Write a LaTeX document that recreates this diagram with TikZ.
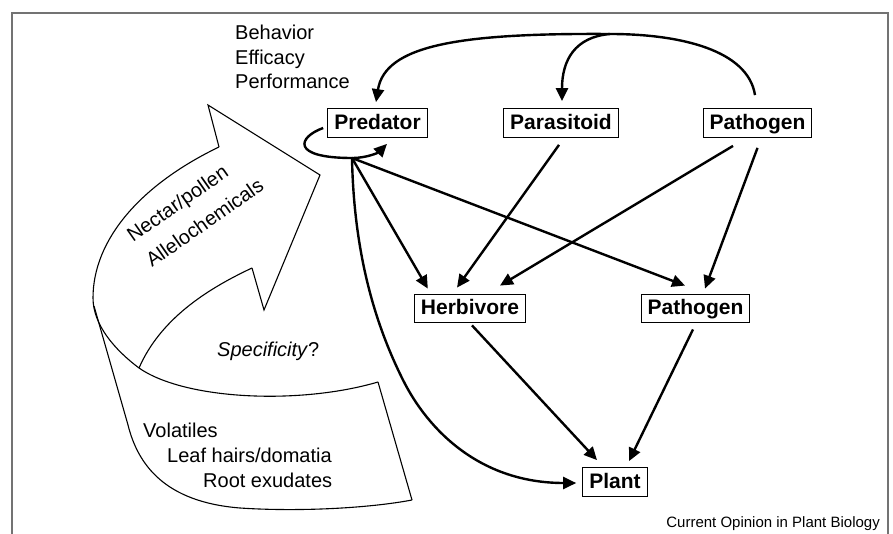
\documentclass[tikz,border=0pt]{standalone}
\usepackage{fontspec}
\setmainfont{Liberation Sans}
\usetikzlibrary{arrows.meta,calc}
\begin{document}
\begin{tikzpicture}[x=1pt,y=-1pt,
  box/.style={draw=black, line width=1.3pt, font=\fontsize{21}{25}\selectfont\bfseries, text height=15pt, text depth=2.5pt, inner xsep=6.5pt, inner ysep=5.5pt},
  lbl/.style={inner sep=0pt, font=\fontsize{20}{24}\selectfont, anchor=base west},
  conn/.style={line width=2.4pt, -{Triangle[length=13pt,width=12pt]}},
  band/.style={line width=1.1pt, line join=miter},
  frameline/.style={draw=black!55, line width=1.5pt}]
\useasboundingbox (0,0) rectangle (893,534);
% frame
\draw[frameline] (12,534) -- (12,13) -- (888,13) -- (888,534);

% boxes
\node[box] (pred) at (377.5,123) {Predator};
\node[box] (para) at (561,123) {Parasitoid};
\node[box] (pathA) at (757.5,123) {Pathogen};
\node[box] (herb) at (470,308.5) {Herbivore};
\node[box] (pathB) at (695.5,308.5) {Pathogen};
\node[box] (plant) at (615,482) {Plant};

\coordinate (loopbot) at (352,158);
\coordinate (peak) at (610,34);

% connectors
\draw[conn] ($(pred.west)+(-4,5)$) .. controls (298,137) and (290,158) .. (loopbot) .. controls (368,158) and (379,152) .. ($(pred.south)+(9.5,6)$);
\draw[conn] ($(pathA.north)+(-2.5,-13)$) .. controls (748,50) and (680,34) .. (peak) .. controls (460,33) and (385,45) .. ($(pred.north)+(-1.5,-6)$);
\draw[conn] (peak) .. controls (575,37) and (562,60) .. ($(para.north)+(1,-7)$);
\draw[conn] (loopbot) -- ($(herb.north west)+(14,-5)$);
\draw[conn] (loopbot) -- ($(pathB.north)+(-10.5,-8)$);
\draw[conn] (loopbot) .. controls (354,260) and (378,330) .. (403,380) .. controls (428,430) and (480,483) .. ($(plant.west)+(-6,1)$);
\draw[conn] ($(para.south)+(-2,7)$) -- ($(herb.north)+(-13,-6)$);
\draw[conn] ($(pathA.south)+(-24.5,8)$) -- ($(herb.north)+(30,-8)$);
\draw[conn] ($(pathA.south)+(0,10)$) -- ($(pathB.north)+(9.5,-5)$);
\draw[conn] ($(herb.south)+(2,2)$) -- ($(plant.north)+(-18,-7)$);
\draw[conn] ($(pathB.south)+(-2.5,6)$) -- ($(plant.north)+(14,-6)$);

% band arrow
\draw[band] (219,147) -- (208,105) -- (320,175) -- (264,310) -- (252,268);
\draw[band] (219,147) .. controls (140,185) and (93,240) .. (93,298) .. controls (93,325) and (115,350) .. (139,368) .. controls (185,400) and (300,405) .. (378,382);
\draw[band] (252,268) .. controls (205,290) and (160,320) .. (139,368);
\draw[band] (94,306) -- (128,425) .. controls (138,465) and (165,502) .. (240,508) .. controls (300,512) and (370,508) .. (412,500);
\draw[band] (378,382) -- (412,500);

% texts
\node[lbl] (beh) at (235,40) {Behavior};
\node[lbl] (eff) at (235,64.5) {Efficacy};
\node[lbl] (perf) at (235,89) {Performance};
\node[lbl, rotate=35] (nectar) at (133,243) {Nectar/pollen};
\node[lbl, rotate=35] (allelo) at (152,268) {Allelochemicals};
\node[lbl] (spec) at (217,356) {\textit{Specificity}?};
\node[lbl] (vol) at (143,437) {Volatiles};
\node[lbl] (leaf) at (167,462) {Leaf hairs/domatia};
\node[lbl] (root) at (203,487) {Root exudates};
\node[inner sep=0pt, font=\fontsize{15}{18}\selectfont, anchor=base east] (cred) at (880,527) {Current Opinion in Plant Biology};
\end{tikzpicture}
\end{document}
